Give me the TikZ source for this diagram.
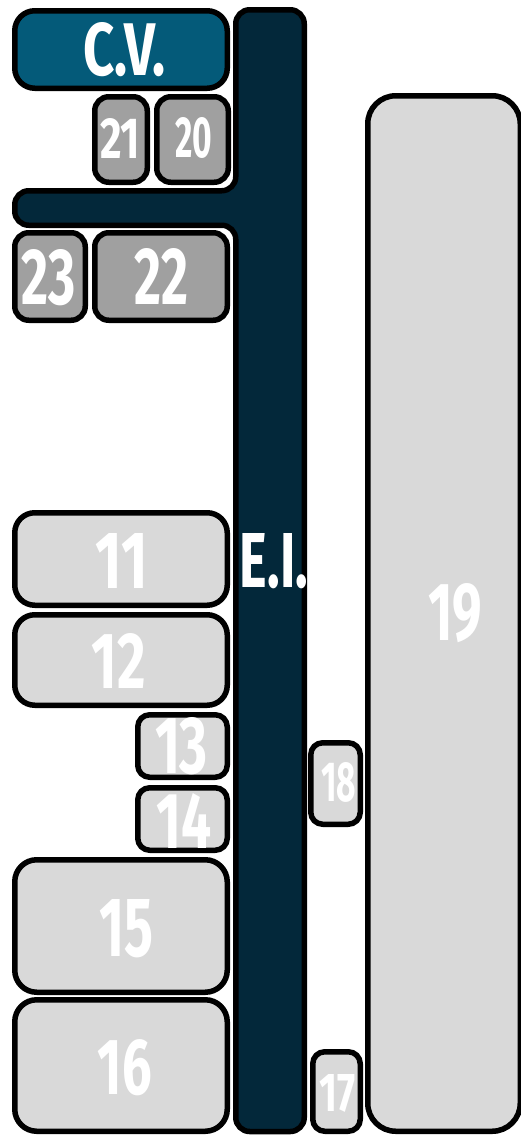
\documentclass[tikz,border=0pt]{standalone}
\usepackage{fontspec}
\setmainfont{Fira Sans}
\usepackage{graphicx}
\definecolor{cvblue}{HTML}{045A79}
\definecolor{barblue}{HTML}{03283A}
\definecolor{midgray}{HTML}{A0A0A0}
\definecolor{ltgray}{HTML}{D9D9D9}
\newcommand\boxnode[7]{% style, name, x1, y1, x2, y2, radius
  \pgfmathsetmacro\bw{#5-#3-5.5}\pgfmathsetmacro\bh{#6-#4-5.5}%
  \pgfmathsetmacro\bcx{(#3+#5)/2}\pgfmathsetmacro\bcy{(#4+#6)/2}%
  \node[#1, rounded corners=#7pt, minimum width=\bw pt, minimum height=\bh pt] (#2) at (\bcx,\bcy) {};}
\newcommand\lblnode[6]{% name, cx, cy, W, H, text
  \node[lbl] (#1) at (#2,#3) {\resizebox{#4pt}{#5pt}{#6}};}
\begin{document}
\begin{tikzpicture}[x=1pt,y=-1pt,line width=5.5pt,line join=round,
  box/.style={draw=black,rectangle,inner sep=0pt,outer sep=0pt},
  cvbox/.style={box,fill=cvblue},
  dkbox/.style={box,fill=midgray},
  ltbox/.style={box,fill=ltgray},
  barshape/.style={draw=black,fill=barblue,rounded corners=14pt},
  lbl/.style={inner sep=0pt,outer sep=0pt,text=white,font=\bfseries}]
\useasboundingbox (0,0) rectangle (520,1135);
% dark E.I. shape
\draw[barshape] (270,1131.5) -- (235.75,1131.5) -- (235.75,225.25) -- (14.75,225.25)
  -- (14.75,190.75) -- (235.75,190.75) -- (235.75,9.75) -- (304.25,9.75)
  -- (304.25,1131.5) -- cycle;
% boxes
\boxnode{cvbox}{cv}{12}{8}{230}{91}{20}
\boxnode{dkbox}{b21}{92}{94}{150}{185}{14}
\boxnode{dkbox}{b20}{154}{94}{231}{185}{14}
\boxnode{dkbox}{b23}{12}{230}{88}{323}{14}
\boxnode{dkbox}{b22}{92}{230}{230}{323}{14}
\boxnode{ltbox}{b11}{12}{510}{230}{608}{20}
\boxnode{ltbox}{b12}{12}{612}{230}{708}{20}
\boxnode{ltbox}{b13}{135}{712}{230}{780}{12}
\boxnode{ltbox}{b14}{135}{785}{230}{853}{12}
\boxnode{ltbox}{b15}{12}{857}{230}{995}{22}
\boxnode{ltbox}{b16}{12}{997}{230}{1134}{22}
\boxnode{ltbox}{b17}{310}{1049}{363}{1134}{12}
\boxnode{ltbox}{b18}{308}{740}{363}{827}{12}
\boxnode{ltbox}{b19}{365}{93}{523}{1134}{28}
% labels
\lblnode{tcv}{124.5}{50}{83}{53}{C.V.}
\lblnode{t21}{120}{138.5}{40}{40}{21}
\lblnode{t20}{193.5}{138}{37}{40}{20}
\lblnode{t23}{49}{277.5}{54}{55}{23}
\lblnode{t22}{161}{276.5}{54}{56}{22}
\lblnode{tei}{274}{561}{68}{54}{E.I.}
\lblnode{t11}{122}{560.5}{52}{55}{11}
\lblnode{t12}{119}{660.5}{54}{55}{12}
\lblnode{t13}{181.5}{746.5}{53}{56}{13}
\lblnode{t14}{184.5}{820.5}{55}{55}{14}
\lblnode{t15}{126}{928.5}{54}{57}{15}
\lblnode{t16}{125}{1067.5}{54}{55}{16}
\lblnode{t17}{338}{1093.5}{36}{37}{17}
\lblnode{t18}{338.5}{782.5}{35}{39}{18}
\lblnode{t19}{455}{613.5}{54}{57}{19}
\end{tikzpicture}
\end{document}
